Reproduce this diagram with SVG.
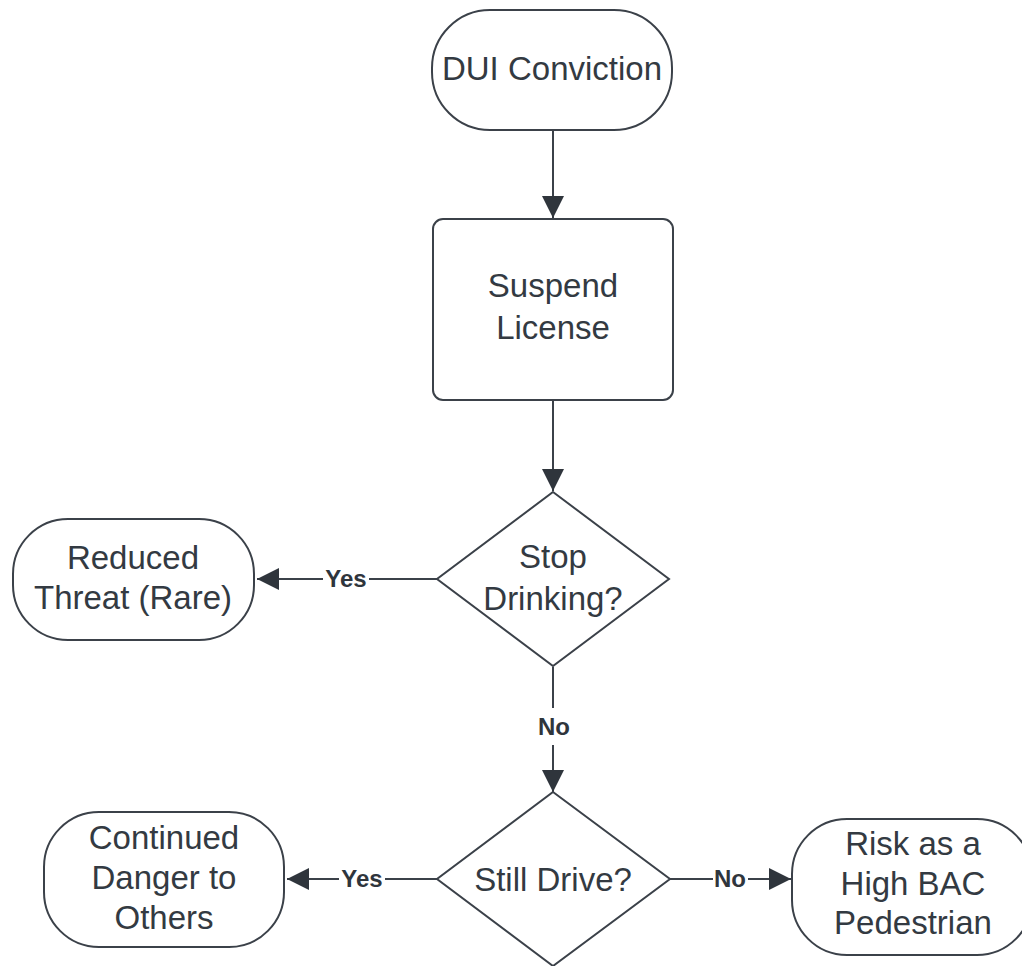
<svg xmlns="http://www.w3.org/2000/svg" width="1022" height="966" viewBox="0 0 1022 966">
<style>
.shape{fill:#fff;stroke:#3b4149;stroke-width:2}
.t{font-family:"Liberation Sans",Arial,sans-serif;font-size:33px;fill:#333a42;text-anchor:middle}
.lbl{font-family:"Liberation Sans",Arial,sans-serif;font-size:24px;font-weight:bold;fill:#2f353c;text-anchor:middle}
.c{fill:none;stroke:#3b4149;stroke-width:2}
</style>
<defs>
<marker id="ahb" viewBox="0 0 20 20" refX="20" refY="10" markerWidth="22" markerHeight="22" markerUnits="userSpaceOnUse" orient="auto">
<path d="M0,0 L20,10 L0,20 z" fill="#2f353c"/>
</marker>
</defs>
<rect width="1022" height="966" fill="#fff"/>
<g id="connectors">
<line class="c" x1="553" y1="130" x2="553" y2="218" marker-end="url(#ahb)"/>
<line class="c" x1="553" y1="400" x2="553" y2="491" marker-end="url(#ahb)"/>
<line class="c" x1="437" y1="579" x2="369" y2="579"/>
<line class="c" x1="323" y1="579" x2="257" y2="579" marker-end="url(#ahb)"/>
<text class="lbl" x="346" y="587">Yes</text>
<line class="c" x1="553" y1="667" x2="553" y2="708"/>
<line class="c" x1="553" y1="745" x2="553" y2="792" marker-end="url(#ahb)"/>
<text class="lbl" x="554" y="735">No</text>
<line class="c" x1="437" y1="879" x2="385" y2="879"/>
<line class="c" x1="339" y1="879" x2="287" y2="879" marker-end="url(#ahb)"/>
<text class="lbl" x="362" y="887">Yes</text>
<line class="c" x1="670" y1="879" x2="713" y2="879"/>
<line class="c" x1="748" y1="879" x2="791" y2="879" marker-end="url(#ahb)"/>
<text class="lbl" x="730" y="887">No</text>
</g>
<g id="dui">
<rect class="shape" x="432" y="10" width="240" height="120" rx="58" ry="58"/>
<text class="t" x="552" y="80">DUI Conviction</text>
</g>
<g id="suspend">
<rect class="shape" x="433" y="219" width="240" height="181" rx="10" ry="10"/>
<text class="t" x="553" y="297">Suspend</text>
<text class="t" x="553" y="339">License</text>
</g>
<g id="stop">
<polygon class="shape" points="553,492 669,579 553,666 437,579"/>
<text class="t" x="553" y="568">Stop</text>
<text class="t" x="553" y="610">Drinking?</text>
</g>
<g id="reduced">
<rect class="shape" x="13" y="519" width="241" height="121" rx="55" ry="55"/>
<text class="t" x="133" y="569">Reduced</text>
<text class="t" x="133" y="609">Threat (Rare)</text>
</g>
<g id="still">
<polygon class="shape" points="553,792 670,879 553,966 437,879"/>
<text class="t" x="553" y="891">Still Drive?</text>
</g>
<g id="continued">
<rect class="shape" x="44" y="812" width="240" height="135" rx="55" ry="55"/>
<text class="t" x="164" y="849">Continued</text>
<text class="t" x="164" y="889">Danger to</text>
<text class="t" x="164" y="929">Others</text>
</g>
<g id="risk">
<rect class="shape" x="792" y="819" width="240" height="136" rx="55" ry="55"/>
<text class="t" x="913" y="855">Risk as a</text>
<text class="t" x="913" y="895">High BAC</text>
<text class="t" x="913" y="934">Pedestrian</text>
</g>
</svg>
